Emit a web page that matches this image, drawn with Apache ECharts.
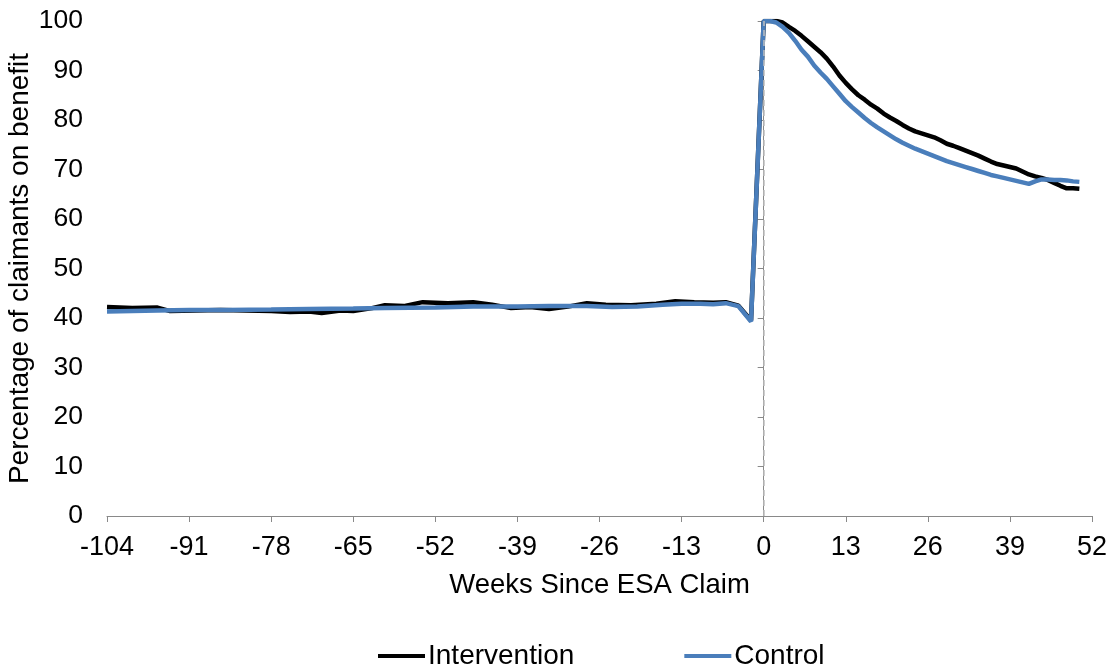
<!DOCTYPE html>
<html>
<head>
<meta charset="utf-8">
<script src="https://cdn.jsdelivr.net/npm/echarts@6/dist/echarts.min.js"></script>
<style>
html,body{margin:0;padding:0;background:#fff;}
#chart{width:1117px;height:668px;}
</style>
</head>
<body>
<div id="chart"></div>
<script>
// Weeks since ESA claim and % of claimants on benefit
const interventionWeeks = [-104,-100,-96,-94,-90,-86,-82,-78,-75,-72,-70,-67,-65,-62,-60,-57,-54,-50,-46,-43,-40,-37,-34,-31,-28,-25,-21,-17,-14,-11,-8,-6,-4,-2,
  0,1,2,3,4,5,6,7,8,9,10,11,12,13,14,15,16,17,18,19,20,21,22,23,24,25,26,27,28,29,30,31,32,33,34,35,36,37,38,39,40,41,42,43,44,45,46,47,48,49,50];
const interventionValues = [42.2,42.0,42.1,41.4,41.5,41.6,41.5,41.4,41.2,41.3,41.0,41.5,41.4,42.0,42.6,42.4,43.2,43.0,43.2,42.7,42.0,42.2,41.8,42.3,43.0,42.7,42.6,42.9,43.4,43.2,43.1,43.2,42.5,39.5,
  100,100,100,99.7,98.8,98.0,97.0,95.9,94.8,93.7,92.4,90.8,89.0,87.5,86.2,85.0,84.1,83.1,82.3,81.3,80.5,79.8,79.0,78.3,77.7,77.3,76.9,76.5,75.9,75.2,74.8,74.3,73.8,73.3,72.8,72.2,71.6,71.1,70.8,70.5,70.2,69.6,69.0,68.6,68.3,67.9,67.3,66.7,66.2,66.2,66.1];

const controlWeeks = [-104,-96,-91,-85,-78,-72,-65,-60,-52,-46,-39,-34,-28,-24,-20,-16,-13,-10,-8,-6,-4,-2,
  0,1,2,3,4,5,6,7,8,9,10,11,12,13,14,15,16,17,18,19,20,21,22,23,24,25,26,27,28,29,30,31,32,33,34,35,36,37,38,39,40,41,42,43,44,45,46,47,48,49,50];
const controlValues = [41.3,41.5,41.6,41.6,41.7,41.8,41.9,42.0,42.1,42.3,42.3,42.4,42.4,42.2,42.3,42.7,42.9,42.9,42.8,43.0,42.4,39.3,
  100,100,99.7,98.8,97.6,96.0,94.2,92.8,91.0,89.6,88.3,86.8,85.3,83.8,82.6,81.5,80.4,79.4,78.5,77.7,76.9,76.1,75.4,74.8,74.2,73.7,73.2,72.7,72.2,71.7,71.3,70.9,70.5,70.1,69.7,69.3,68.9,68.6,68.3,68.0,67.7,67.4,67.1,67.6,68.0,68.0,67.9,67.9,67.8,67.6,67.5];

const seriesNames = ['Intervention', 'Control'];
const xTicks = [-104,-91,-78,-65,-52,-39,-26,-13,0,13,26,39,52];
const claimWeek = 0;

const FONT = '"Liberation Sans", Arial, sans-serif';
const chart = echarts.init(document.getElementById('chart'), null, {renderer: 'canvas'});
const axisGrey = '#898989';

chart.setOption({
  animation: false,
  backgroundColor: '#ffffff',
  textStyle: {fontFamily: FONT},
  grid: {left: 107, right: 25, top: 21, bottom: 152, containLabel: false, outerBoundsMode: 'none'},
  legend: {
    data: seriesNames.map(n => ({name: n, icon: 'rect'})),
    top: 637, left: 373,
    itemWidth: 47, itemHeight: 4, itemGap: 110,
    textStyle: {fontSize: 28, color: '#000', fontFamily: FONT, padding: [0,0,0,-2]}
  },
  xAxis: {
    type: 'value', min: xTicks[0], max: xTicks[xTicks.length-1], interval: 13,
    name: 'Weeks Since ESA Claim', nameLocation: 'middle', nameGap: 55, nameMoveOverlap: false,
    nameTextStyle: {fontSize: 27.5, color: '#000', fontFamily: FONT, verticalAlign: 'top'},
    axisLine: {show: true, onZero: false, lineStyle: {color: axisGrey, width: 1}},
    axisTick: {show: true, inside: false, length: 6, lineStyle: {color: axisGrey}},
    axisLabel: {fontSize: 27, color: '#000', margin: 18, fontFamily: FONT},
    splitLine: {show: false}
  },
  yAxis: {
    type: 'value', min: 0, max: 100, interval: 10,
    name: 'Percentage of claimants on benefit', nameLocation: 'middle', nameGap: 73, nameMoveOverlap: false,
    nameTextStyle: {fontSize: 28, color: '#000', fontFamily: FONT},
    axisLine: {show: true, lineStyle: {color: axisGrey, width: 1}},
    axisTick: {show: true, inside: false, length: 6, lineStyle: {color: axisGrey}},
    axisLabel: {fontSize: 26.5, color: '#000', margin: 24, fontFamily: FONT},
    splitLine: {show: false}
  },
  series: [
    {
      name: seriesNames[0], type: 'line', symbol: 'none', smooth: false,
      data: interventionWeeks.map((w, i) => [w, interventionValues[i]]),
      lineStyle: {color: '#000000', width: 4.5},
      itemStyle: {color: '#000000'},
      markLine: {
        silent: true, symbol: ['none','none'], label: {show: false},
        lineStyle: {color: '#bfbfbf', type: [6,4], width: 1.5},
        data: [{xAxis: claimWeek}]
      },
      z: 2
    },
    {
      name: seriesNames[1], type: 'line', symbol: 'none', smooth: false,
      data: controlWeeks.map((w, i) => [w, controlValues[i]]),
      lineStyle: {color: '#4A7EBB', width: 4.5},
      itemStyle: {color: '#4A7EBB'},
      z: 3
    }
  ]
});
</script>
</body>
</html>
